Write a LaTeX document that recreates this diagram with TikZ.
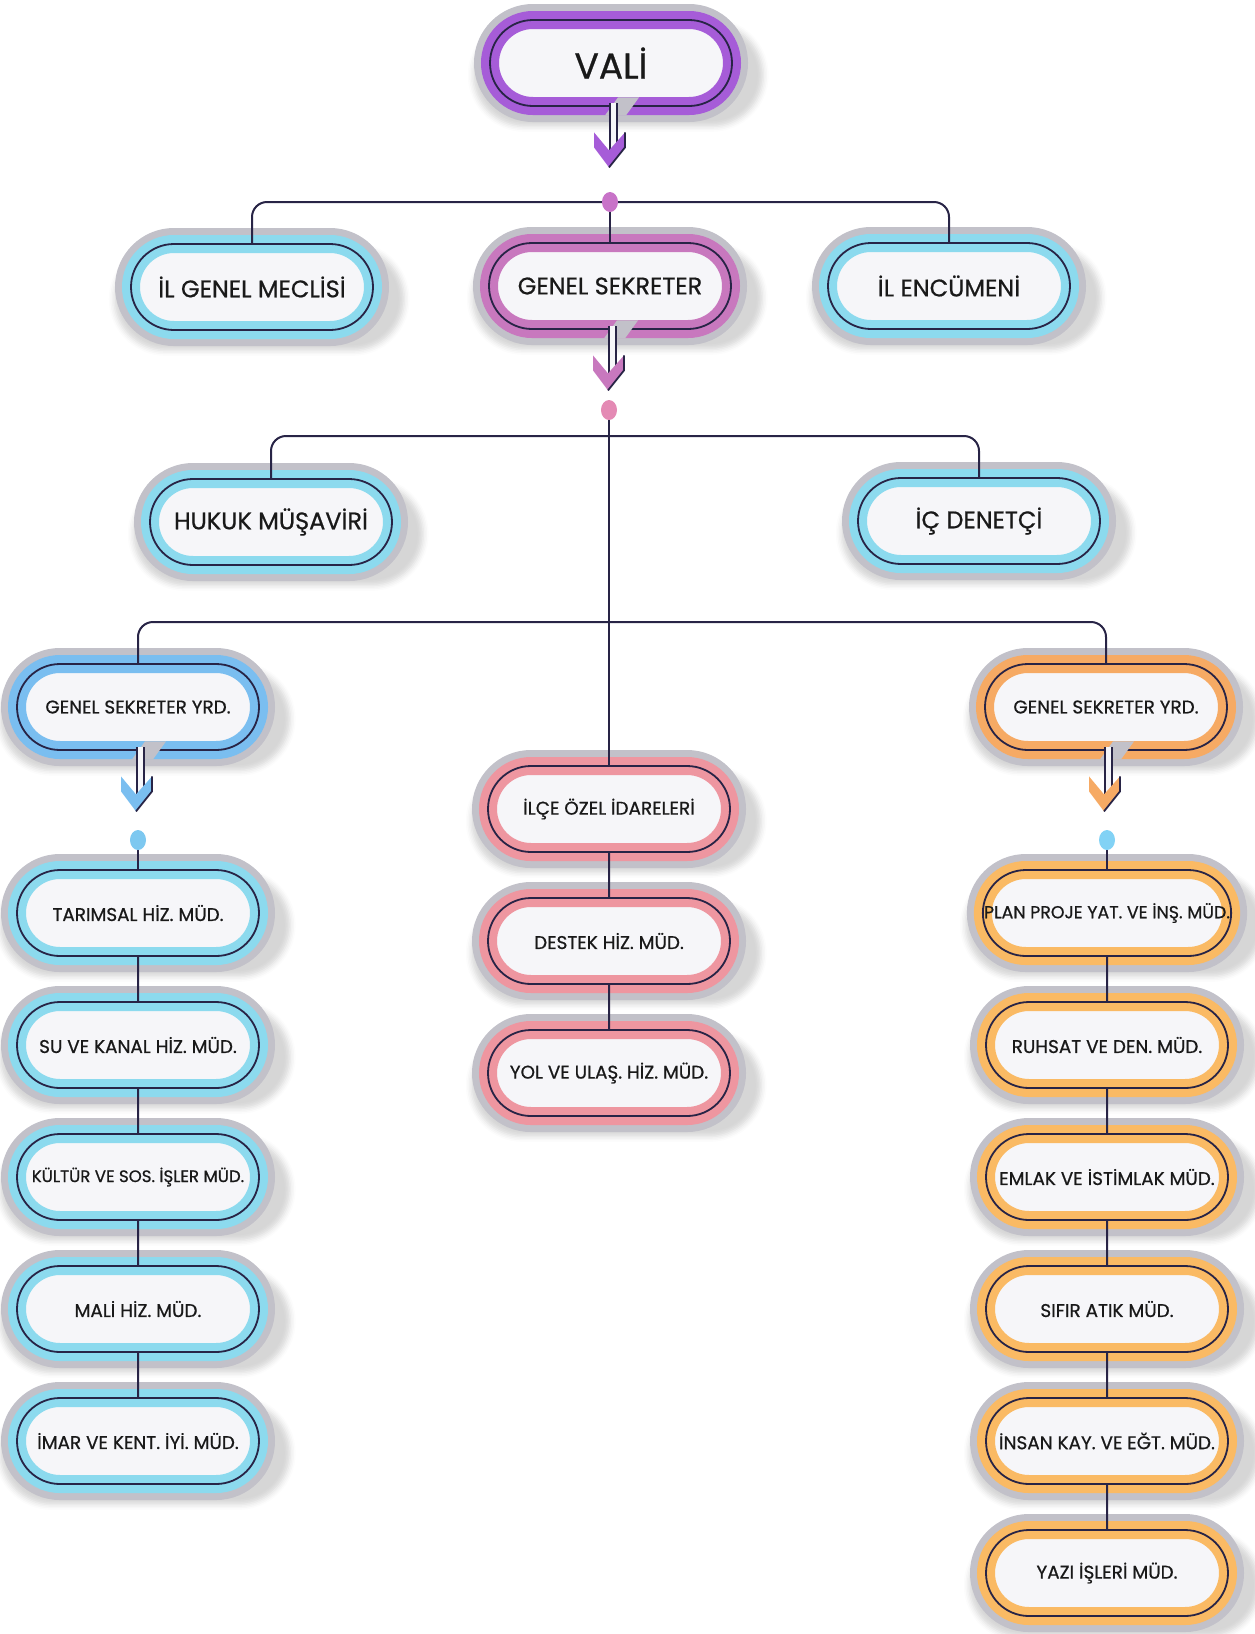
\documentclass[tikz,border=0pt]{standalone}
\usepackage{fontspec}
\setmainfont{Poppins}[FakeBold=0.7]
\usepackage{tikz}
\usetikzlibrary{shapes.misc,shapes.geometric,shadows.blur}

\definecolor{ink}{RGB}{40,36,70}
\definecolor{rim}{RGB}{194,193,201}
\definecolor{paper}{RGB}{246,246,249}
\definecolor{valiband}{RGB}{166,92,216}
\definecolor{gsband}{RGB}{200,120,190}
\definecolor{cyanband}{RGB}{140,218,238}
\definecolor{blueband}{RGB}{122,190,240}
\definecolor{orangeband}{RGB}{246,170,100}
\definecolor{yellowband}{RGB}{250,186,100}
\definecolor{redband}{RGB}{238,150,160}
\definecolor{dotvali}{RGB}{200,115,200}
\definecolor{dotgs}{RGB}{228,138,180}
\definecolor{dotleft}{RGB}{125,200,240}
\definecolor{dotright}{RGB}{130,210,245}

\tikzset{
  unit/.style={rounded rectangle, minimum width=121pt, minimum height=43pt,
    inner sep=0pt, fill=paper, text=black!90,
    blur shadow={shadow xshift=3pt, shadow yshift=-5pt, shadow scale=1.2, shadow opacity=16},
    preaction={draw=rim, line width=16pt},
    postaction={draw=#1, line width=9pt},
    postaction={draw=ink, line width=0.9pt}},
  large/.style={font=\fontsize{12}{14}\selectfont},
  little/.style={font=\fontsize{9.2}{11}\selectfont},
  joint/.style={ellipse, minimum width=8pt, minimum height=10pt, inner sep=0pt, fill=#1},
  link/.style={draw=ink, line width=1pt},
}

\begin{document}
\begin{tikzpicture}[x=0.5pt, y=-0.5pt]
    \useasboundingbox (0,0) rectangle (1254,1634);

    % top
    \node [unit=valiband, font=\fontsize{18}{20}\selectfont] (vali) at (611, 63) {VALİ};
    \node [unit=cyanband, large] (igm) at (252, 287) {İL GENEL MECLİSİ};
    \node [unit=gsband, large] (gs) at (610, 286) {GENEL SEKRETER};
    \node [unit=cyanband, large] (enc) at (949, 286) {İL ENCÜMENİ};
    \node [unit=cyanband, large] (hukuk) at (271, 522) {HUKUK MÜŞAVİRİ};
    \node [unit=cyanband, large] (ic) at (979, 521) {İÇ DENETÇİ};
    \node [unit=blueband, little] (yrdl) at (138, 707) {GENEL SEKRETER YRD.};
    \node [unit=orangeband, little] (yrdr) at (1106, 707) {GENEL SEKRETER YRD.};

    % middle
    \node [unit=redband, little] (ilce) at (609, 809) {İLÇE ÖZEL İDARELERİ};
    \node [unit=redband, little] (destek) at (609, 941) {DESTEK HİZ. MÜD.};
    \node [unit=redband, little] (yol) at (609, 1073) {YOL VE ULAŞ. HİZ. MÜD.};

    % left column
    \node [unit=cyanband, little] (tar) at (138, 913) {TARIMSAL HİZ. MÜD.};
    \node [unit=cyanband, little] (su) at (138, 1045) {SU VE KANAL HİZ. MÜD.};
    \node [unit=cyanband, little, font=\fontsize{8.3}{10}\selectfont] (kul) at (138, 1177) {KÜLTÜR VE SOS. İŞLER MÜD.};
    \node [unit=cyanband, little] (mali) at (138, 1309) {MALİ HİZ. MÜD.};
    \node [unit=cyanband, little] (imar) at (138, 1441) {İMAR VE KENT. İYİ. MÜD.};

    % right column
    \node [unit=yellowband, little, font=\fontsize{8.7}{10}\selectfont] (plan) at (1107, 913) {PLAN PROJE YAT. VE İNŞ. MÜD.};
    \node [unit=yellowband, little] (ruhsat) at (1107, 1045) {RUHSAT VE DEN. MÜD.};
    \node [unit=yellowband, little] (emlak) at (1107, 1177) {EMLAK VE İSTİMLAK MÜD.};
    \node [unit=yellowband, little] (sifir) at (1107, 1309) {SIFIR ATIK MÜD.};
    \node [unit=yellowband, little] (insan) at (1107, 1441) {İNSAN KAY. VE EĞT. MÜD.};
    \node [unit=yellowband, little] (yazi) at (1107, 1573) {YAZI İŞLERİ MÜD.};

    % arrows out of the boxes
    \foreach \n/\c in {vali/valiband, gs/gsband, yrdl/blueband, yrdr/orangeband} {
      \begin{scope}[shift={(\n.south)}]
        \fill [rim] (-6, 9) -- (7, -9) -- (28, -9) -- (15, 9) -- cycle;
        \fill [paper] (-1, -3) rectangle (6, 44);
        \draw [ink, line width=0.9pt] (-1, -3) -- (-1, 44) (6, -3) -- (6, 38);
        \fill [\c] (-17, 26) -- (-2, 44) -- (14, 26) -- (14, 41) -- (-2, 61) -- (-17, 41) -- cycle;
        \draw [ink, line width=0.9pt] (14, 26) -- (14, 41) -- (-2, 61);
      \end{scope}
    }

    \coordinate (p1) at (610, 202);
    \coordinate (p2) at (609, 410);
    \coordinate (j2) at (609, 436);
    \coordinate (j3) at (609, 622);
    \coordinate (pl) at (138, 840);
    \coordinate (pr) at (1107, 840);

    % connectors
    \draw [link, rounded corners=7.5pt] (igm.north) |- (p1) -| (enc.north);
    \draw [link] (p1) -- (gs.north);
    \draw [link, rounded corners=7.5pt] (hukuk.north) |- (j2) -| (ic.north);
    \draw [link, rounded corners=7.5pt] (yrdl.north) |- (j3) -| (yrdr.north);
    \draw [link] (p2) -- (ilce.north);
    \draw [link] (ilce) -- (destek) -- (yol);
    \draw [link] (pl) -- (tar.north);
    \draw [link] (tar) -- (su) -- (kul) -- (mali) -- (imar);
    \draw [link] (pr) -- (plan.north);
    \draw [link] (plan) -- (ruhsat) -- (emlak) -- (sifir) -- (insan) -- (yazi);

    % dots
    \node [joint=dotvali] (dot1) at (p1) {};
    \node [joint=dotgs] (dot2) at (p2) {};
    \node [joint=dotleft] (dotl) at (pl) {};
    \node [joint=dotright] (dotr) at (pr) {};
\end{tikzpicture}
\end{document}
